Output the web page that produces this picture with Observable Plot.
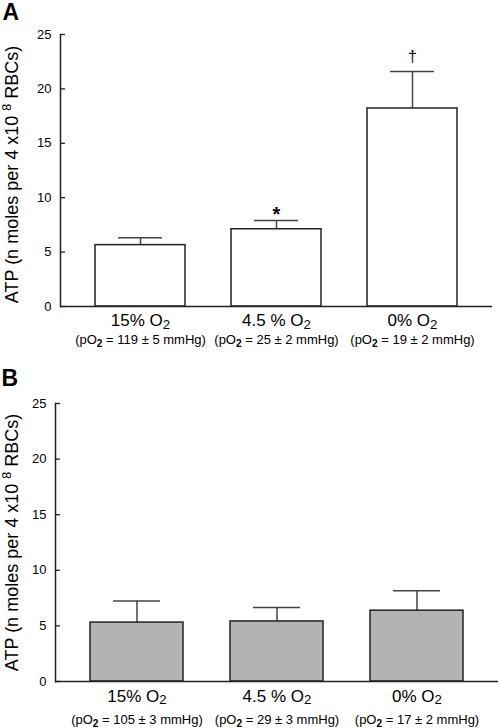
<!DOCTYPE html>
<html>
<head>
<meta charset="utf-8">
<script src="https://cdn.jsdelivr.net/npm/d3@7"></script>
<script src="https://cdn.jsdelivr.net/npm/@observablehq/plot@0.6"></script>
<style>
  html, body { margin: 0; padding: 0; background: #fff; }
  #chart svg { display: block; }
</style>
</head>
<body>
<div id="chart"></div>
<script>
// ---- data ----
const categories = ["15% O_2", "4.5 % O_2", "0% O_2"];
const yTicks = [0, 5, 10, 15, 20, 25];
const yLabel = "ATP (n moles per 4 x10 ^8 RBCs)";

const meanA = [5.64, 7.1, 18.2];
const semA = [0.67, 0.8, 3.4];
const signifA = ["", "*", "†"];
const pO2A = ["(pO_b2 = 119 ± 5 mmHg)", "(pO_b2 = 25 ± 2 mmHg)", "(pO_b2 = 19 ± 2 mmHg)"];

const meanB = [5.3, 5.4, 6.37];
const semB = [1.95, 1.25, 1.8];
const signifB = ["", "", ""];
const pO2B = ["(pO_b2 = 105 ± 3 mmHg)", "(pO_b2 = 29 ± 3 mmHg)", "(pO_b2 = 17 ± 2 mmHg)"];

const FONT = "Liberation Sans, Arial, Helvetica, sans-serif";
const SVGNS = "http://www.w3.org/2000/svg";

function rows(means, sems, marks, pos) {
  return categories.map((c, i) => ({cat: c, mean: means[i], err: means[i] + sems[i], mark: marks[i], pO2: pos[i]}));
}

// convert _2 / _b2 (subscript) and ^8 (superscript) markers to tspans
function rich(svg) {
  d3.select(svg).selectAll("text").each(function () {
    const el = this;
    const s = el.textContent;
    if (!/_b?\d|\^\d/.test(s)) return;
    el.textContent = "";
    const parts = s.split(/(_b?\d|\^\d)/);
    let pending = 0; // shift to undo on next normal run (in parent em)
    for (const p of parts) {
      if (!p) continue;
      const t = document.createElementNS(SVGNS, "tspan");
      let m;
      if ((m = p.match(/^_(b?)(\d)$/))) {
        const shift = m[1] ? 0.3 : 0.16;
        t.textContent = m[2];
        t.setAttribute("font-size", "0.78em");
        t.setAttribute("dy", (shift / 0.78).toFixed(3) + "em");
        if (m[1]) t.setAttribute("font-weight", "bold");
        pending = shift;
      } else if ((m = p.match(/^\^(\d)$/))) {
        t.textContent = m[1];
        t.setAttribute("font-size", "0.7em");
        t.setAttribute("dy", (-0.4 / 0.7).toFixed(3) + "em");
        pending = -0.4;
      } else {
        t.textContent = p;
        if (pending) t.setAttribute("dy", (-pending) + "em");
        pending = 0;
      }
      el.appendChild(t);
    }
  });
}

function panel({data, letter, fill, height, marginTop, marginBottom, marginLeft, marginRight,
                letterDx, letterDy, labelDx, labelDy, line1Dy, line2Dy}) {
  const svg = Plot.plot({
    width: 500,
    height,
    marginTop, marginBottom, marginLeft, marginRight,
    style: {fontFamily: FONT, color: "#000", background: "#fff", overflow: "visible"},
    x: {domain: categories, paddingInner: 0.335, paddingOuter: 0.245, axis: null},
    y: {domain: [0, 25], axis: null},
    marks: [
      Plot.axisY({ticks: yTicks, tickSize: -5, tickPadding: 14, fontSize: 13, label: null, stroke: "#222", strokeWidth: 1.3}),
      Plot.frame({anchor: "left", stroke: "#222", strokeWidth: 1.5}),
      Plot.ruleX(data, {x: "cat", y1: "mean", y2: "err", stroke: "#444", strokeWidth: 1.5}),
      Plot.tickY(data, {x: "cat", y: "err", insetLeft: 23, insetRight: 23, stroke: "#444", strokeWidth: 1.5}),
      Plot.barY(data, {x: "cat", y: "mean", fill, stroke: "#222", strokeWidth: 1.5}),
      Plot.ruleY([0], {stroke: "#222", strokeWidth: 1.5}),
      Plot.text(data.filter(d => d.mark === "*"), {x: "cat", y: "err", text: "mark", lineAnchor: "bottom", dy: 0, fontSize: 20, fontWeight: "bold", fill: "#000"}),
      Plot.text(data.filter(d => d.mark === "†"), {x: "cat", y: "err", text: "mark", lineAnchor: "bottom", dy: -9, fontSize: 16, fill: "#000"}),
      Plot.text(data, {x: "cat", text: "cat", frameAnchor: "bottom", lineAnchor: "bottom", dy: line1Dy, fontSize: 17, fill: "#000"}),
      Plot.text(data, {x: "cat", text: "pO2", frameAnchor: "bottom", lineAnchor: "bottom", dy: line2Dy, fontSize: 13, fill: "#000"}),
      Plot.text([yLabel], {frameAnchor: "left", rotate: -90, lineAnchor: "bottom", textAnchor: "middle", dx: labelDx, dy: labelDy, fontSize: 18, fill: "#000"}),
      Plot.text([letter], {frameAnchor: "top-left", textAnchor: "start", lineAnchor: "bottom", dx: letterDx, dy: letterDy, fontSize: 23, fontWeight: "bold", fill: "#000"})
    ]
  });
  rich(svg);
  return svg;
}

const chart = document.getElementById("chart");
chart.appendChild(panel({
  data: rows(meanA, semA, signifA, pO2A), letter: "A", fill: "#fff",
  height: 362, marginTop: 34, marginBottom: 56, marginLeft: 60, marginRight: 8,
  letterDx: -58, letterDy: -14.5, labelDx: -42.5, labelDy: 4, line1Dy: 19.5, line2Dy: 37
}));
chart.appendChild(panel({
  data: rows(meanB, semB, signifB, pO2B), letter: "B", fill: "#b3b3b3",
  height: 366, marginTop: 41, marginBottom: 47, marginLeft: 55, marginRight: 2,
  letterDx: -54, letterDy: -17.3, labelDx: -37.5, labelDy: 0, line1Dy: 20, line2Dy: 42
}));
</script>
</body>
</html>
